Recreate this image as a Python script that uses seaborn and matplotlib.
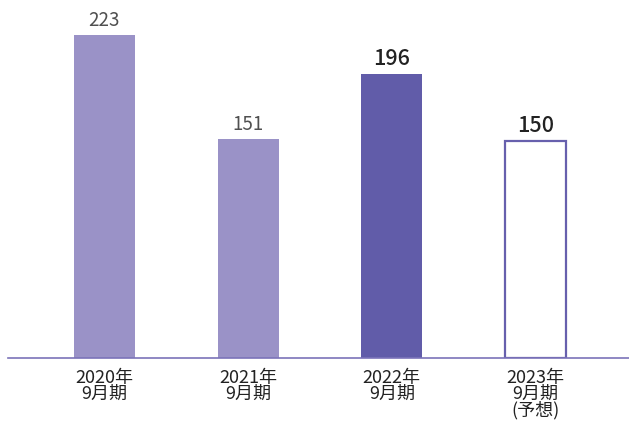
import pandas as pd
import seaborn as sns
import matplotlib.pyplot as plt

# values
periods = ['2020年\n9月期', '2021年\n9月期', '2022年\n9月期', '2023年\n9月期\n(予想)']
values = [223, 151, 196, 150]
bar_colors = ['#9a92c7', '#9a92c7', '#615ca9', '#ffffff']
label_bold = [False, False, True, True]

df = pd.DataFrame({'period': periods, 'value': values})

sns.set_style('white')
plt.rcParams['font.family'] = ['Noto Sans CJK JP', 'DejaVu Sans']

fig = plt.figure(figsize=(6.29, 4.27), dpi=100)
ax = fig.add_axes([8 / 629, 68 / 427, 621 / 629, 359 / 427])

sns.barplot(data=df, x='period', y='value', hue='period', palette=bar_colors,
            saturation=1, width=0.424, linewidth=0, legend=False, ax=ax)

# the forecast bar is only an outline
outline = ax.patches[3]
outline.set_edgecolor('#6760ad')
outline.set_linewidth(1.6)

for bar, v, bold in zip(ax.patches, values, label_bold):
    x = bar.get_x() + bar.get_width() / 2
    if bold:
        ax.text(x, v + 3.5, str(v), ha='center', va='bottom', fontsize=15.5,
                fontweight='medium', color='#222222')
    else:
        ax.text(x, v + 3.5, str(v), ha='center', va='bottom', fontsize=13.5,
                color='#505050')

ax.set_xlim(-0.67, 3.65)
ax.set_ylim(0, 248)
ax.set_xlabel('')
ax.set_ylabel('')
ax.set_yticks([])
ax.tick_params(axis='x', length=0, pad=7, labelsize=13, labelcolor='#222222')
for lab in ax.get_xticklabels():
    lab.set_linespacing(0.88)

for side in ['top', 'right', 'left']:
    ax.spines[side].set_visible(False)
ax.spines['bottom'].set_color('#7b73b9')
ax.spines['bottom'].set_linewidth(1.2)

fig.savefig('out.png', dpi=100)
